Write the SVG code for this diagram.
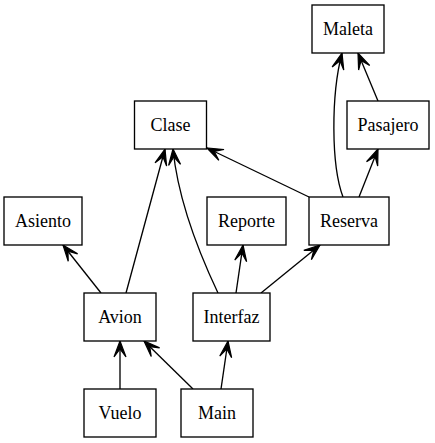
<svg xmlns="http://www.w3.org/2000/svg" width="435" height="443" viewBox="0 0 435 443">
<style>
.n rect{fill:#fff;stroke:#000;stroke-width:1.33}
.n text{font-family:'Liberation Serif','DejaVu Serif','Times New Roman',Times,serif;font-size:18px;text-anchor:middle;fill:#000}
.e path{fill:none;stroke:#000;stroke-width:1.33;marker-end:url(#v)}
</style>
<defs>
<marker id="v" markerUnits="userSpaceOnUse" markerWidth="20" markerHeight="16" refX="0" refY="0" viewBox="-17 -8 18 16" orient="auto" overflow="visible">
<path d="M0,0 L-16,-6 L-8,0 L-16,6 Z" fill="#000" stroke="#000" stroke-width="1.2"/>
</marker>
</defs>
<rect width="435" height="443" fill="#fff"/>
<g id="edges" class="e">
<path d="M343,197 C331,165 331,95 342,53"/>
<path d="M378,101 L358,53"/>
<path d="M359,197 L378,149"/>
<path d="M309,197 L207,148"/>
<path d="M126,293 L165,149"/>
<path d="M218,293 C200,255 178,200 173,149"/>
<path d="M101,293 L63,245"/>
<path d="M236,293 L243,245"/>
<path d="M261,293 L320,245"/>
<path d="M120,389 L120,341"/>
<path d="M193,389 L144,341"/>
<path d="M221,389 L228,341"/>
</g>
<g id="Maleta" class="n"><rect x="312" y="5" width="72" height="48"/><text x="348" y="35" font-family="Liberation Serif, serif">Maleta</text></g>
<g id="Clase" class="n"><rect x="134.5" y="101" width="72" height="48"/><text x="170.5" y="131">Clase</text></g>
<g id="Pasajero" class="n"><rect x="347" y="101" width="82" height="48"/><text x="388" y="131">Pasajero</text></g>
<g id="Asiento" class="n"><rect x="4" y="197" width="78" height="48"/><text x="43" y="227">Asiento</text></g>
<g id="Reporte" class="n"><rect x="207" y="197" width="79" height="48"/><text x="246.5" y="227">Reporte</text></g>
<g id="Reserva" class="n"><rect x="309" y="197" width="80" height="48"/><text x="349" y="227">Reserva</text></g>
<g id="Avion" class="n"><rect x="84" y="293" width="72" height="48"/><text x="120" y="323">Avion</text></g>
<g id="Interfaz" class="n"><rect x="193" y="293" width="77" height="48"/><text x="231.5" y="323">Interfaz</text></g>
<g id="Vuelo" class="n"><rect x="84" y="389" width="72" height="48"/><text x="120" y="419">Vuelo</text></g>
<g id="Main" class="n"><rect x="181" y="389" width="72" height="48"/><text x="217" y="419">Main</text></g>
</svg>
